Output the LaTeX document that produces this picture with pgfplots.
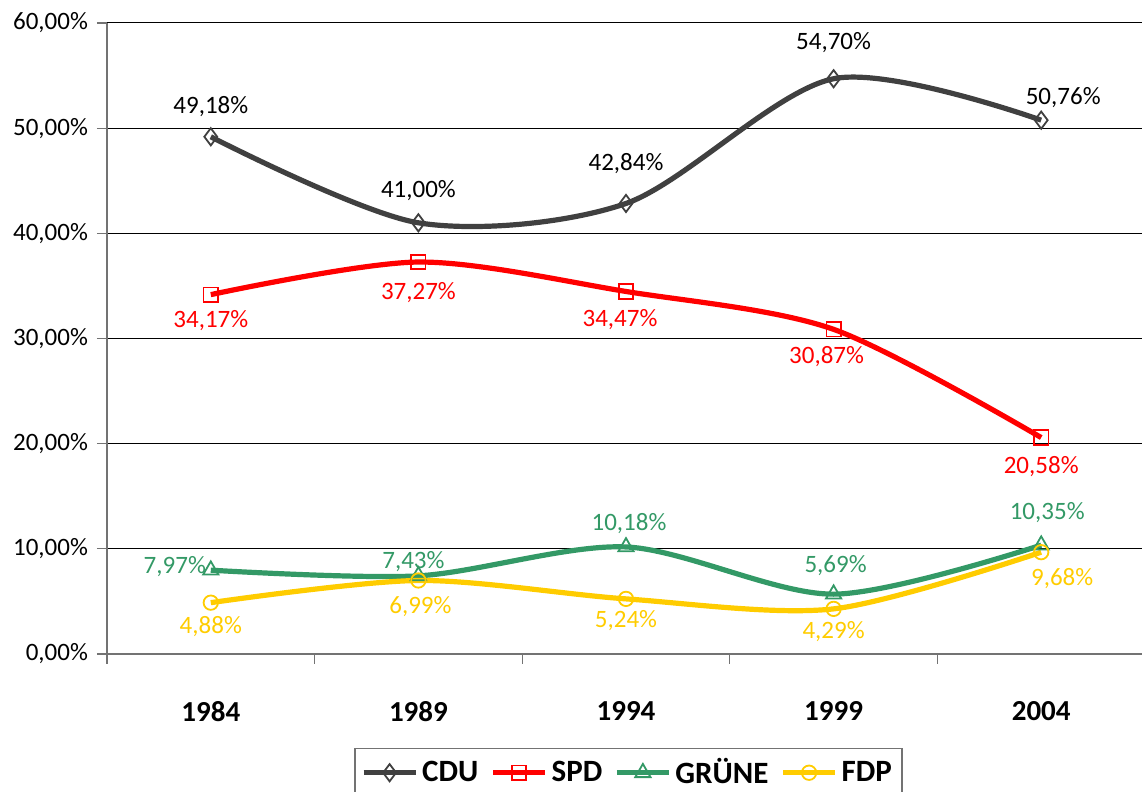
\documentclass[border=0pt]{standalone}
\usepackage{pgfplots}
\pgfplotsset{compat=1.18}
\usepackage{pgfplotstable}
\usepackage{fontspec}
\setmainfont{Carlito}
\definecolor{cdu}{HTML}{404040}
\definecolor{spd}{HTML}{FF0000}
\definecolor{gruene}{HTML}{339966}
\definecolor{fdp}{HTML}{FFCC00}
\pgfplotstableread{
x y lab dx dy
0 49.18 49,18 0 15
1 41.00 41,00 0 16
2 42.84 42,84 0 20
3 54.70 54,70 0 18
4 50.76 50,76 11 11.5
}\cdu
\pgfplotstableread{
x y lab dx dy
0 34.17 34,17 0 -13
1 37.27 37,27 0 -15.5
2 34.47 34,47 -3 -14
3 30.87 30,87 -3.5 -13.5
4 20.58 20,58 0 -14.5
}\spd
\pgfplotstableread{
x y lab dx dy
0 7.97 7,97 -18 2
1 7.43 7,43 -2.5 7
2 10.18 10,18 1.5 11.5
3 5.69 5,69 1 14.5
4 10.35 10,35 3 16.5
}\gruene
\pgfplotstableread{
x y lab dx dy
0 4.88 4,88 0 -12
1 6.99 6,99 1 -13
2 5.24 5,24 0 -11
3 4.29 4,29 0 -11.5
4 9.68 9,68 10.5 -13
}\fdp
\begin{document}
\begin{tikzpicture}
\useasboundingbox (0,0) rectangle (571pt,396pt);
\begin{axis}[
  at={(53.5pt,69pt)}, anchor=south west,
  scale only axis, width=519pt, height=315.5pt,
  xmin=-0.5, xmax=4.5, ymin=0, ymax=60,
  axis lines*=left,
  axis line style={draw=gray!90!black, line width=0.6pt},
  tick align=outside,
  major tick length=5pt, minor tick length=5pt,
  tick style={draw=gray!90!black, line width=0.6pt},
  xtick={0,1,2,3,4},
  xticklabels={1984,1989,1994,1999,2004},
  every major x tick/.style={draw=none},
  minor xtick={-0.5,0.5,1.5,2.5,3.5,4.5},
  xticklabel style={font=\bfseries\fontsize{14.5}{17}\selectfont, yshift=-15pt},
  ytick={0,10,20,30,40,50,60},
  yticklabels={{0,00\%},{10,00\%},{20,00\%},{30,00\%},{40,00\%},{50,00\%},{60,00\%}},
  yticklabel style={font=\fontsize{12.5}{15}\selectfont, xshift=-1pt},
  ymajorgrids,
  grid style={black, line width=0.5pt},
  clip=false,
  every axis plot/.append style={line width=2.6pt, smooth},
  point meta=explicit symbolic,
  nodes near coords={\pgfplotspointmeta\%},
  visualization depends on={\thisrow{dx} \as \dx},
  visualization depends on={\thisrow{dy} \as \dy},
  nodes near coords style={anchor=center, xshift=\dx pt, yshift=\dy pt, font=\fontsize{12.5}{15}\selectfont, inner sep=0pt},
  legend columns=4,
  legend style={at={(0.5024,-0.149)}, anchor=north, draw=gray!90!black, line width=0.6pt,
    font=\bfseries\fontsize{15.5}{18}\selectfont, inner xsep=3pt, inner ysep=3pt,
    /tikz/every even column/.append style={column sep=4pt}},
  legend image code/.code={\draw[mark repeat=2,mark phase=2] plot coordinates {(0pt,0pt)(13pt,0pt)(26pt,0pt)};},
]
\addplot[color=cdu, mark=diamond, mark size=4.3pt, mark options={fill=white, line width=0.9pt}, nodes near coords style={text=black}] table[x=x,y=y,meta=lab] {\cdu};
\addlegendentry{CDU}
\addplot[color=spd, mark=square, mark size=3.6pt, mark options={fill=white, line width=0.9pt}, nodes near coords style={text=spd}] table[x=x,y=y,meta=lab] {\spd};
\addlegendentry{SPD}
\addplot[color=gruene, mark=triangle, mark size=4.4pt, mark options={fill=white, line width=0.9pt}, nodes near coords style={text=gruene}] table[x=x,y=y,meta=lab] {\gruene};
\addlegendentry{GRÜNE}
\addplot[color=fdp, mark=o, mark size=3.6pt, mark options={fill=white, line width=0.9pt}, nodes near coords style={text=fdp}] table[x=x,y=y,meta=lab] {\fdp};
\addlegendentry{FDP}
\end{axis}
\end{tikzpicture}
\end{document}
